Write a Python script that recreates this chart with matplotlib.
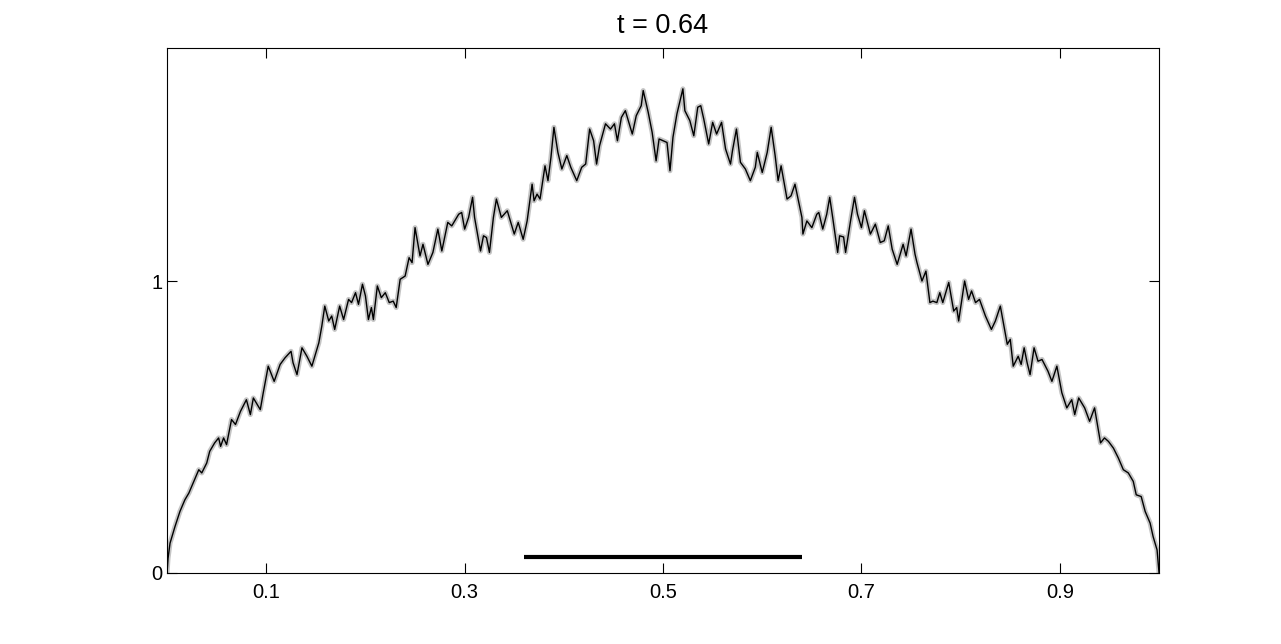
import matplotlib
matplotlib.use("Agg")
import matplotlib.pyplot as plt

# curve values
curve_x = [
    0.000, 0.001, 0.003, 0.008, 0.013, 0.018, 0.022, 0.027, 0.032, 0.035,
    0.040, 0.043, 0.048, 0.052, 0.054, 0.057, 0.060, 0.065, 0.069, 0.074,
    0.080, 0.084, 0.087, 0.094, 0.097, 0.102, 0.108, 0.114, 0.119, 0.125,
    0.127, 0.131, 0.136, 0.141, 0.146, 0.148, 0.153, 0.156, 0.159, 0.163,
    0.166, 0.169, 0.174, 0.178, 0.183, 0.186, 0.190, 0.193, 0.197, 0.200,
    0.203, 0.206, 0.208, 0.212, 0.216, 0.220, 0.224, 0.228, 0.231, 0.235,
    0.240, 0.244, 0.247, 0.250, 0.255, 0.258, 0.263, 0.268, 0.273, 0.277,
    0.283, 0.287, 0.294, 0.297, 0.300, 0.304, 0.308, 0.310, 0.316, 0.319,
    0.322, 0.325, 0.329, 0.332, 0.337, 0.343, 0.350, 0.354, 0.359, 0.363,
    0.368, 0.370, 0.373, 0.376, 0.381, 0.384, 0.387, 0.390, 0.394, 0.398,
    0.403, 0.407, 0.413, 0.418, 0.422, 0.426, 0.430, 0.433, 0.436, 0.442,
    0.447, 0.451, 0.454, 0.458, 0.462, 0.465, 0.469, 0.473, 0.478, 0.480,
    0.485, 0.489, 0.493, 0.496, 0.500, 0.504, 0.507, 0.510, 0.514, 0.520,
    0.522, 0.527, 0.531, 0.535, 0.538, 0.541, 0.546, 0.550, 0.554, 0.559,
    0.563, 0.568, 0.570, 0.574, 0.578, 0.583, 0.588, 0.593, 0.595, 0.600,
    0.605, 0.609, 0.613, 0.616, 0.619, 0.625, 0.629, 0.633, 0.640, 0.641,
    0.645, 0.650, 0.655, 0.657, 0.661, 0.665, 0.668, 0.671, 0.676, 0.678,
    0.682, 0.684, 0.689, 0.693, 0.696, 0.700, 0.703, 0.709, 0.714, 0.719,
    0.723, 0.727, 0.731, 0.736, 0.742, 0.745, 0.750, 0.754, 0.756, 0.761,
    0.765, 0.769, 0.772, 0.776, 0.779, 0.782, 0.788, 0.793, 0.796, 0.798,
    0.804, 0.808, 0.811, 0.815, 0.819, 0.825, 0.831, 0.835, 0.840, 0.844,
    0.847, 0.850, 0.853, 0.858, 0.861, 0.864, 0.867, 0.870, 0.874, 0.878,
    0.882, 0.888, 0.892, 0.897, 0.902, 0.907, 0.912, 0.915, 0.919, 0.925,
    0.930, 0.935, 0.941, 0.945, 0.949, 0.954, 0.959, 0.964, 0.969, 0.974,
    0.977, 0.982, 0.986, 0.991, 0.994, 0.998, 1.000,
]
curve_y = [
    0.000, 0.050, 0.102, 0.159, 0.211, 0.251, 0.274, 0.314, 0.354, 0.343,
    0.377, 0.417, 0.446, 0.463, 0.434, 0.463, 0.440, 0.526, 0.509, 0.554,
    0.594, 0.543, 0.600, 0.560, 0.618, 0.709, 0.657, 0.715, 0.738, 0.760,
    0.721, 0.680, 0.772, 0.743, 0.709, 0.732, 0.789, 0.846, 0.915, 0.864,
    0.881, 0.835, 0.915, 0.869, 0.938, 0.927, 0.961, 0.921, 0.990, 0.950,
    0.869, 0.910, 0.869, 0.984, 0.944, 0.961, 0.927, 0.932, 0.910, 1.007,
    1.018, 1.081, 1.064, 1.184, 1.087, 1.127, 1.058, 1.099, 1.179, 1.104,
    1.202, 1.190, 1.230, 1.236, 1.179, 1.219, 1.288, 1.219, 1.104, 1.156,
    1.150, 1.099, 1.219, 1.282, 1.219, 1.242, 1.162, 1.202, 1.144, 1.207,
    1.333, 1.276, 1.299, 1.282, 1.396, 1.345, 1.425, 1.528, 1.442, 1.385,
    1.431, 1.391, 1.345, 1.391, 1.402, 1.522, 1.482, 1.402, 1.465, 1.540,
    1.522, 1.540, 1.482, 1.562, 1.585, 1.551, 1.505, 1.568, 1.602, 1.654,
    1.580, 1.511, 1.413, 1.488, 1.482, 1.476, 1.379, 1.494, 1.574, 1.660,
    1.585, 1.551, 1.499, 1.597, 1.602, 1.557, 1.471, 1.545, 1.505, 1.545,
    1.454, 1.402, 1.448, 1.522, 1.408, 1.385, 1.345, 1.391, 1.442, 1.373,
    1.442, 1.528, 1.431, 1.345, 1.396, 1.282, 1.293, 1.333, 1.219, 1.162,
    1.207, 1.184, 1.230, 1.236, 1.179, 1.230, 1.288, 1.219, 1.099, 1.156,
    1.152, 1.099, 1.207, 1.288, 1.230, 1.184, 1.242, 1.162, 1.196, 1.133,
    1.139, 1.190, 1.110, 1.058, 1.127, 1.087, 1.179, 1.093, 1.064, 1.001,
    1.035, 0.927, 0.932, 0.927, 0.961, 0.927, 0.996, 0.898, 0.910, 0.864,
    1.001, 0.938, 0.967, 0.927, 0.938, 0.881, 0.835, 0.864, 0.915, 0.841,
    0.784, 0.801, 0.709, 0.743, 0.715, 0.772, 0.721, 0.680, 0.772, 0.726,
    0.732, 0.692, 0.657, 0.709, 0.618, 0.566, 0.594, 0.543, 0.600, 0.566,
    0.520, 0.566, 0.446, 0.463, 0.451, 0.428, 0.394, 0.354, 0.343, 0.314,
    0.268, 0.262, 0.211, 0.171, 0.125, 0.079, 0.000,
]

# the black bar near the bottom
bar_x = [0.36, 0.64]
bar_y = [0.055, 0.055]

title = "t = 0.64"
xticks = [0.1, 0.3, 0.5, 0.7, 0.9]
yticks = [0, 1]

plt.rcParams['font.family'] = ['Liberation Sans', 'DejaVu Sans']

fig = plt.figure(figsize=(12.81, 6.44), dpi=100)
ax = fig.add_axes([0.1304, 0.1103, 0.7744, 0.8152])

# gray halo under the black curve
ax.plot(curve_x, curve_y, color='#c4c4c4', linewidth=3.6, zorder=1)
ax.plot(curve_x, curve_y, color='black', linewidth=1.0, zorder=2)
ax.plot(bar_x, bar_y, color='black', linewidth=3.0, solid_capstyle='butt', zorder=3)

ax.set_xlim(0, 1)
ax.set_ylim(0, 1.8)
ax.set_xticks(xticks)
ax.set_xticklabels([str(v) for v in xticks])
ax.set_yticks(yticks)
ax.set_yticklabels([str(v) for v in yticks])
ax.tick_params(direction='in', length=7, width=0.8, top=True, right=True,
               labelsize=14.5)
ax.tick_params(axis='x', pad=7)
ax.tick_params(axis='y', pad=3.5)
for sp in ax.spines.values():
    sp.set_linewidth(0.8)

ax.set_title(title, fontsize=19.5, pad=11)

fig.savefig("out.png", dpi=100)
